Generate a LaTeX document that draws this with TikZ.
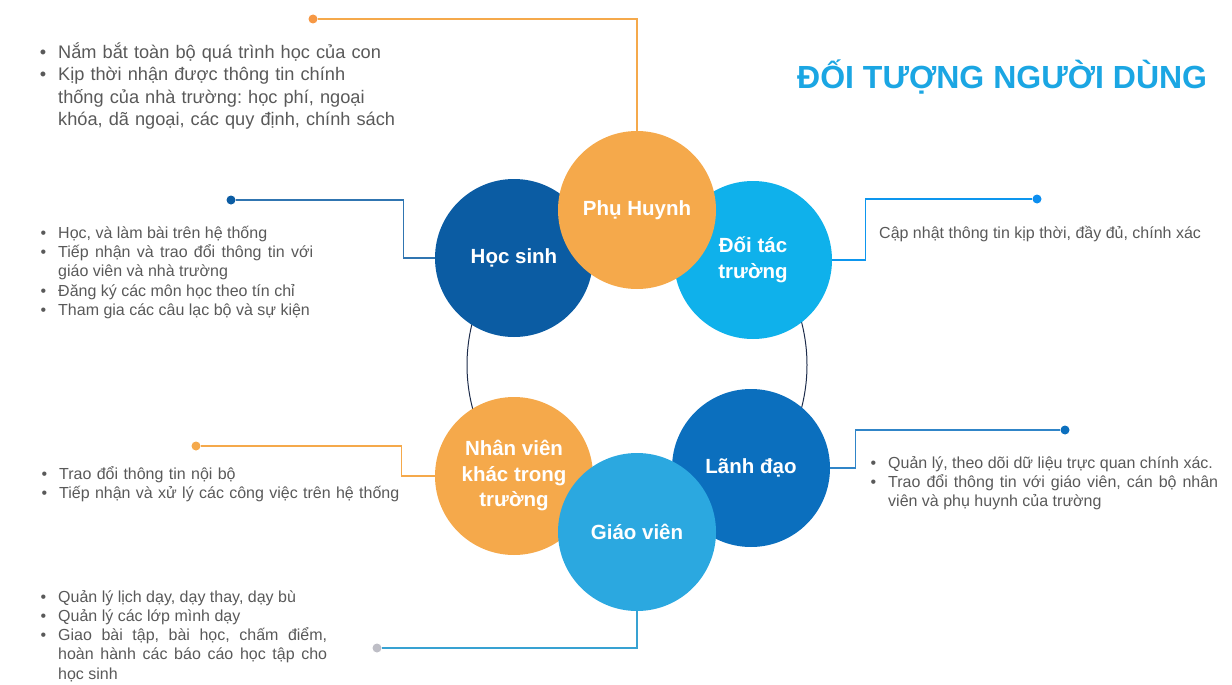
\documentclass[tikz,border=0pt]{standalone}
\usepackage{fontspec}
\setmainfont{Liberation Sans}
\usepackage{enumitem}
\setlist[itemize]{label=\textbullet,leftmargin=18pt,labelwidth=6pt,labelsep=12pt,
  itemsep=0pt,parsep=0pt,topsep=0pt,partopsep=0pt}
\frenchspacing
\definecolor{cam}{HTML}{F5A94B}
\definecolor{xanhdam}{HTML}{0B5CA3}
\definecolor{xanhnhat}{HTML}{0FB1EB}
\definecolor{xanhvua}{HTML}{0B6FBE}
\definecolor{xanhgv}{HTML}{2BA8E0}
\definecolor{tieude}{HTML}{1BA6E3}
\definecolor{chu}{HTML}{595959}
\definecolor{vien}{HTML}{1C2B4A}
\definecolor{diem}{HTML}{BEBEC6}
\tikzset{
  vong/.style={circle,minimum size=158pt,inner sep=0pt,text=white,align=center,
    font=\bfseries\fontsize{20.5}{25.5}\selectfont},
  noi/.style={line width=1.2pt},
  cham/.style={circle,inner sep=0pt,minimum size=9pt},
  ghichu/.style={anchor=base west,inner sep=0pt,text=chu,align=justify,
    font=\fontsize{16}{19.2}\selectfont}
}
\begin{document}
\begin{tikzpicture}[x=1pt,y=-1pt]
  \useasboundingbox (0,0) rectangle (1232,685);
  \draw[vien,line width=1pt] (637,365) circle[radius=170pt];

  \node[cham,fill=cam!90!red] (dph) at (313,19) {};
  \node[cham,fill=xanhdam] (dhs) at (231,200) {};
  \node[cham,fill=xanhnhat!80!blue] (ddt) at (1037,199) {};
  \node[cham,fill=xanhvua] (dld) at (1065,430) {};
  \node[cham,fill=cam] (dnv) at (196,446) {};
  \node[cham,fill=diem] (dgv) at (377,648) {};

  \node[vong,fill=xanhdam] (hs) at (514,258) {Học sinh};
  \node[vong,fill=xanhnhat] (dt) at (753,260) {Đối tác\\trường};
  \node[vong,fill=cam] (ph) at (637,210) {Phụ Huynh};
  \node[vong,fill=cam] (nv) at (514,476) {Nhân viên\\khác trong\\trường};
  \node[vong,fill=xanhvua] (ld) at (751,468) {Lãnh đạo};
  \node[vong,fill=xanhgv] (gv) at (637,532) {Giáo viên};

  \begin{scope}[noi]
    \draw[cam] (dph) -| (ph);
    \draw[xanhdam!85] (dhs) -| ([xshift=-31pt]hs.west) -- (hs);
    \draw[xanhnhat!85!blue] (ddt) -| ([xshift=33pt]dt.east) -- (dt);
    \draw[xanhvua!85] (dld) -| ([xshift=25pt]ld.east) -- (ld);
    \draw[cam] (dnv) -| ([xshift=-33pt]nv.west) -- (nv);
    \draw[xanhgv!85!gray] (dgv) -| (gv);
  \end{scope}

  \node[anchor=base west,inner sep=0pt,text=tieude,font=\bfseries\fontsize{32}{38}\selectfont]
    (tieu) at (797,88.5) {ĐỐI TƯỢNG NGƯỜI DÙNG};

  \node[ghichu,text width=420pt,align=left,font=\fontsize{18.2}{22.4}\selectfont] (tph) at (40,36) {%
    \begin{itemize}
      \item Nắm bắt toàn bộ quá trình học của con
      \item Kịp thời nhận được thông tin chính\\ thống của nhà trường: học phí, ngoại\\ khóa, dã ngoại, các quy định, chính sách
    \end{itemize}};
  \node[ghichu,text width=273pt,font=\fontsize{16}{19.3}\selectfont] (ths) at (40,219) {%
    \begin{itemize}
      \item Học, và làm bài trên hệ thống
      \item Tiếp nhận và trao đổi thông tin với\linebreak giáo viên và nhà trường
      \item Đăng ký các môn học theo tín chỉ
      \item Tham gia các câu lạc bộ và sự kiện
    \end{itemize}};
  \node[anchor=base west,inner sep=0pt,text=chu,font=\fontsize{16}{19.2}\selectfont]
    (tdt) at (879,238) {Cập nhật thông tin kịp thời, đầy đủ, chính xác};
  \node[ghichu,text width=348pt,font=\fontsize{16}{19}\selectfont] (tld) at (870,449) {%
    \begin{itemize}
      \item Quản lý, theo dõi dữ liệu trực quan chính xác.
      \item Trao đổi thông tin với giáo viên, cán bộ nhân\linebreak viên và phụ huynh của trường
    \end{itemize}};
  \node[ghichu,text width=400pt,align=left,font=\fontsize{16}{19}\selectfont] (tnv) at (41,460) {%
    \begin{itemize}
      \item Trao đổi thông tin nội bộ
      \item Tiếp nhận và xử lý các công việc trên hệ thống
    \end{itemize}};
  \node[ghichu,text width=287pt,font=\fontsize{16}{19.2}\selectfont] (tgv) at (40,583) {%
    \begin{itemize}
      \item Quản lý lịch dạy, dạy thay, dạy bù
      \item Quản lý các lớp mình dạy
      \item Giao bài tập, bài học, chấm điểm,\linebreak hoàn hành các báo cáo học tập cho\linebreak học sinh
    \end{itemize}};
\end{tikzpicture}
\end{document}
